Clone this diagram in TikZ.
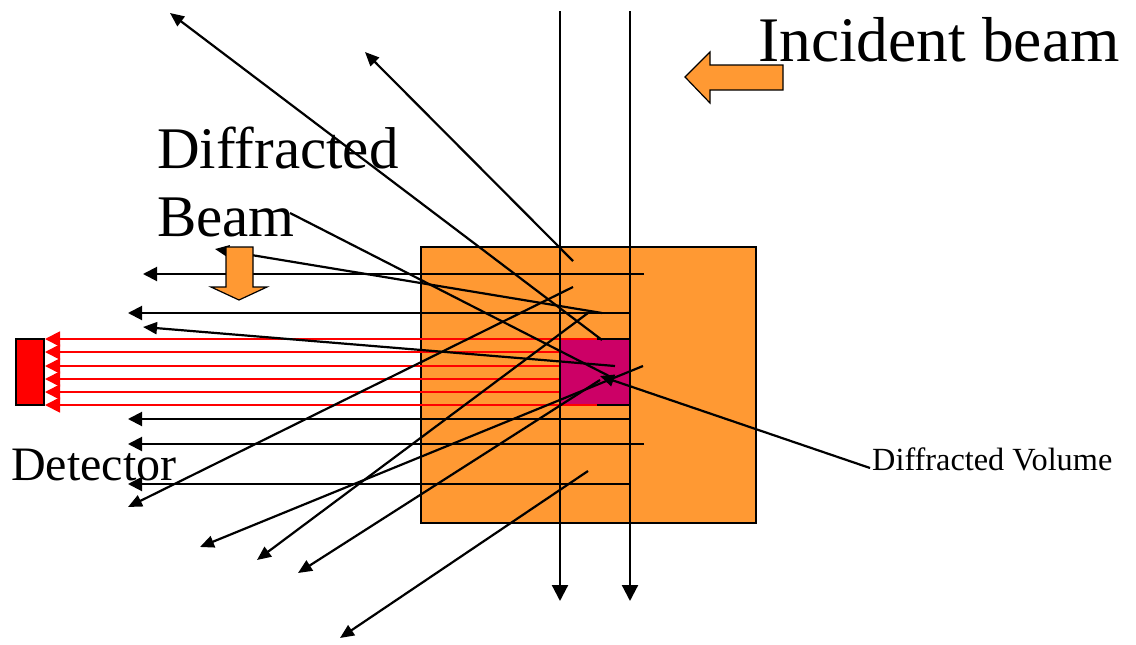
\documentclass[tikz,border=0pt]{standalone}
\usepackage{fontspec}
\setmainfont{Liberation Serif}
\usetikzlibrary{arrows.meta}
\definecolor{samp}{RGB}{255,153,51}
\definecolor{vol}{RGB}{204,0,102}
\tikzset{
  beam/.style={line width=2.2pt,black},
  diff/.style={line width=2.2pt,black,-{Triangle[length=14pt,width=12pt]}},
  hdiff/.style={line width=2pt,black,-{Triangle[length=14pt,width=14pt]}},
  inc/.style={line width=2.2pt,black,-{Triangle[length=16pt,width=16pt]}},
  redray/.style={line width=1.8pt,red,-{Triangle[length=15pt,width=15pt]}},
  blockarrow/.style={fill=samp,draw=black,line width=1.2pt},
  lbl/.style={inner sep=0pt,anchor=base west}
}
\begin{document}
\begin{tikzpicture}[x=1pt,y=-1pt]
\useasboundingbox (0,0) rectangle (1136,645);
% sample and diffracted volume
\draw[fill=samp,line width=2.2pt] (421,247) rectangle (756,523);
\draw[fill=vol,line width=2.2pt] (560,339) rectangle (630,405);
% detector
\node[draw=black,fill=red,line width=2.2pt,minimum width=28pt,minimum height=66pt,inner sep=0pt] (det) at (30,372) {};
% named points
\coordinate (d1) at (45,339); \coordinate (d2) at (45,352); \coordinate (d3) at (45,366);
\coordinate (d4) at (45,379); \coordinate (d5) at (45,392); \coordinate (d6) at (45,405);
% red rays to detector
\draw[redray] (597,339) -- (d1);
\draw[redray] (560,352) -- (d2);
\draw[redray] (560,366) -- (d3);
\draw[redray] (560,379) -- (d4);
\draw[redray] (560,392) -- (d5);
\draw[redray] (597,405) -- (d6);
% incident beams
\coordinate (i1) at (560,11); \coordinate (o1) at (560,601);
\coordinate (i2) at (630,11); \coordinate (o2) at (630,601);
\draw[inc] (i1) -- (o1);
\draw[inc] (i2) -- (o2);
% horizontal diffracted beams
\draw[hdiff] (644,274) -- (143,274);
\draw[hdiff] (630,313) -- (128,313);
\draw[hdiff] (630,419) -- (128,419);
\draw[hdiff] (644,444) -- (128,444);
\draw[hdiff] (630,484) -- (128,484);
% slanted diffracted beams
\draw[diff] (602,340) -- (170,13);
\draw[diff] (573,261) -- (365,52);
\draw[diff] (602,313) -- (215,249);
\draw[diff] (615,366) -- (143,327);
\draw[diff] (573,287) -- (128,507);
\draw[diff] (588,313) -- (257,560);
\draw[diff] (643,366) -- (200,547);
\draw[diff] (600,380) -- (298,573);
\draw[diff] (588,471) -- (340,638);
\draw[beam] (609,376) -- (290,213);
% block arrows
\draw[blockarrow] (783,65) -- (710,65) -- (710,52) -- (685,77) -- (710,103) -- (710,90) -- (783,90) -- cycle;
\draw[blockarrow] (226,247) -- (253,247) -- (253,287) -- (267,287) -- (239,300) -- (211,287) -- (226,287) -- cycle;
% labels
\node[lbl,font=\fontsize{63.5}{70}\selectfont] (inc) at (758,61) {Incident beam};
\node[lbl,font=\fontsize{59}{66}\selectfont] (db1) at (157,168) {Diffracted};
\node[lbl,font=\fontsize{59}{66}\selectfont] (db2) at (157,236) {Beam};
\node[lbl,font=\fontsize{48}{52}\selectfont] (dett) at (11,480) {Detector};
\node[lbl,font=\fontsize{32.3}{36}\selectfont] (dv) at (872,470) {Diffracted Volume};
% pointer to diffracted volume
\coordinate (dvp) at (870,468);
\draw[diff] (dvp) -- (600,376);
\end{tikzpicture}
\end{document}
